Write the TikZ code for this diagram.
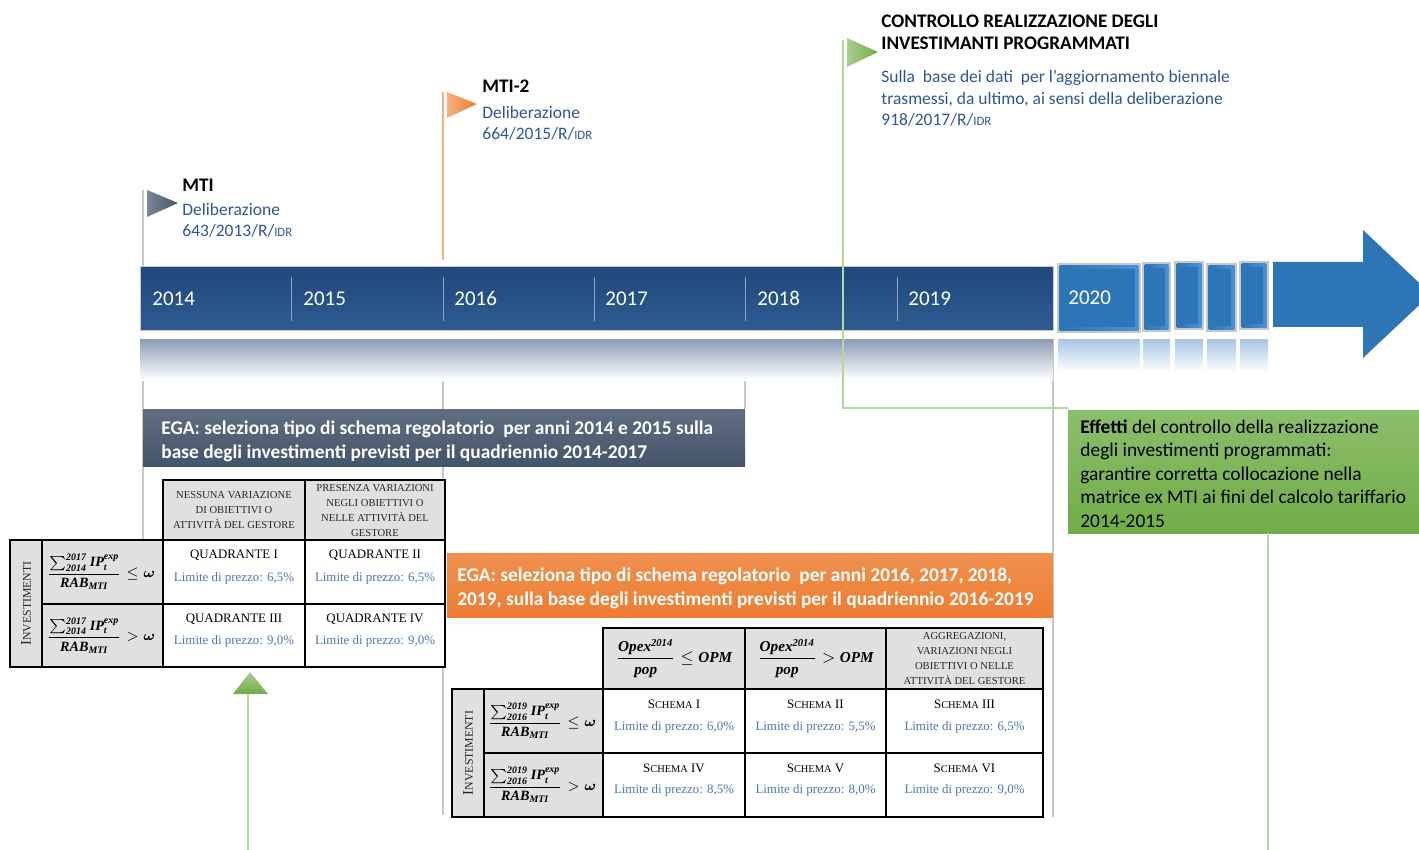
\documentclass[tikz,border=0pt]{standalone}
\usepackage{fontspec}
\usepackage{amsmath}
\setmainfont{Carlito}
\newfontfamily\tabfont{Liberation Serif}
\usetikzlibrary{positioning}
\definecolor{bartop}{HTML}{20487C}
\definecolor{barbot}{HTML}{2E5C92}
\definecolor{barrefl}{HTML}{8C9CB6}
\definecolor{boxblue}{HTML}{2E75B6}
\definecolor{boxlight}{HTML}{4A92D6}
\definecolor{boxrefl}{HTML}{A8C6E6}
\definecolor{delblue}{HTML}{2F5597}
\definecolor{limblue}{HTML}{4A76B8}
\definecolor{slate}{HTML}{44546A}
\definecolor{egaorange}{HTML}{ED7D31}
\definecolor{effgreen}{HTML}{70AD47}
\definecolor{polegray}{HTML}{C8C8C8}
\definecolor{poleorange}{HTML}{F4B183}
\definecolor{polegreen}{HTML}{B5D99C}
\definecolor{cellgray}{HTML}{E0E0E0}
\newcommand{\smallidr}{{\fontsize{6.4}{8}\selectfont IDR}}
\newcommand{\tsc}[3]{#2{\fontsize{#1}{6}\selectfont #3}}
\newcommand{\bi}[1]{\text{\tabfont\bfseries\itshape #1}}
\newcommand{\invfrac}[2]{\dfrac{\sum\nolimits_{\bi{#1}}^{\bi{#2}}\bi{IP}_{\bi{t}}^{\bi{exp}}}{\bi{RAB}_{\bi{MTI}}}}
\newcommand{\opxfrac}{\dfrac{\bi{Opex}^{\bi{2014}}}{\bi{pop}}}

\begin{document}
\begin{tikzpicture}[x=0.5pt,y=-0.5pt,
  yearlbl/.style={anchor=base west, inner sep=0pt, text=white, font=\fontsize{10.5}{12}\selectfont},
  pole/.style={line width=0.6pt},
  flagtitle/.style={anchor=base west, inner sep=0pt, font=\bfseries\fontsize{9.6}{11}\selectfont},
  flagtext/.style={anchor=base west, inner sep=0pt, text=delblue, font=\fontsize{8.75}{10}\selectfont},
  egatext/.style={anchor=base west, inner sep=0pt, text=white, font=\bfseries\fontsize{9.7}{11}\selectfont},
  efftext/.style={anchor=base west, inner sep=0pt, font=\fontsize{9.7}{11}\selectfont},
  grid/.style={line width=0.7pt},
  cellhd/.style={font=\tabfont\fontsize{5.3}{7.5}\selectfont, align=center, text=black!85},
  cellttl/.style={font=\tabfont\fontsize{6.45}{7}\selectfont},
  celllim/.style={font=\tabfont\fontsize{6.45}{7}\selectfont, text=limblue},
  invlbl/.style={rotate=90, font=\tabfont\fontsize{7.4}{8}\selectfont, text=black!85},
  frm/.style={font=\fontsize{7.1}{8}\selectfont}]
\useasboundingbox (0,0) rectangle (1419,850);

% flag poles
\coordinate (mtiTop) at (143,190);
\coordinate (mtiBar) at (143,267);
\coordinate (mtiLow) at (143,339);
\coordinate (mtiEnd) at (143,540);
\draw[pole,polegray] (mtiTop) -- (mtiBar);
\draw[pole,polegray] (mtiLow) -- (mtiEnd);
\coordinate (mti2Top) at (443,92);
\coordinate (mti2Bar) at (443,260);
\coordinate (mti2Low) at (443,339);
\coordinate (mti2End) at (443,815);
\draw[pole,poleorange] (mti2Top) -- (mti2Bar);
\draw[pole,polegray] (mti2Low) -- (mti2End);
\coordinate (y18Low) at (745,339);
\coordinate (y18End) at (745,409);
\draw[pole,polegray] (y18Low) -- (y18End);
\coordinate (endLow) at (1053,339);
\coordinate (endEnd) at (1053,817);
\draw[pole,polegray] (endLow) -- (endEnd);

% reflections under the timeline
\shade[top color=barrefl, bottom color=white] (140,339) rectangle (1053,380);
\foreach \xa/\xb in {1058/1140,1143/1170,1175/1203,1207/1236,1240/1268}
  \shade[top color=boxrefl, bottom color=white] (\xa,339) rectangle (\xb,372);

% timeline bar
\shade[top color=bartop, bottom color=barbot, draw=polegray, line width=0.5pt] (140,267) rectangle (1053,331);
\foreach \x in {291,443,594,745,897}
  \draw[line width=0.4pt, white!45!barbot] (\x,277) -- (\x,321);
\foreach \x/\yr in {152/2014,303/2015,454/2016,605/2017,757/2018,908/2019}
  \node[yearlbl] (yr\yr) at (\x,306) {\yr};

% future boxes and arrow
\foreach \xa/\ya/\xb/\yb in {1058/264/1140/332,1143/263/1170/331,1175/262/1203/329,1207/264/1236/331,1240/262/1268/329}{
  \draw[line width=1pt, polegray] (\xa,\ya) rectangle (\xb,\yb);
  \shade[left color=boxblue, right color=boxlight] (\xa+1.5,\ya+1.5) rectangle (\xb-1.5,\yb-1.5);
  \fill[boxblue] (\xa+5,\ya+5) rectangle (\xb-5,\yb-5);
}
\node[yearlbl] (yr2020) at (1068,305) {2020};
\fill[boxblue] (1273,262) -- (1363,262) -- (1363,230) -- (1431,294) -- (1363,358)
  -- (1363,327) -- (1273,327) -- cycle;

% green pole of the check
\coordinate (chkTop) at (843,40);
\coordinate (chkCorner) at (843,408);
\coordinate (chkBox) at (1068,408);
\draw[pole,polegreen] (chkTop) -- (chkCorner) -- (chkBox);

% flags
\shade[left color=slate!70, right color=slate] (147,190) -- (178,203) -- (147,217) -- cycle;
\shade[left color=egaorange!60, right color=egaorange] (447,92) -- (477,104) -- (447,118) -- cycle;
\shade[left color=effgreen!60, right color=effgreen] (847,38) -- (878,52) -- (847,67) -- cycle;

\node[flagtitle] (mtiT) at (182,192) {MTI};
\node[flagtext] (mtiD) at (182,216) {Deliberazione};
\node[flagtext] (mtiN) at (182,237) {643/2013/R/\smallidr};

\node[flagtitle] (mti2T) at (482,93) {MTI-2};
\node[flagtext] (mti2D) at (482,119) {Deliberazione};
\node[flagtext] (mti2N) at (482,140) {664/2015/R/\smallidr};

\node[flagtitle] (chkT1) at (881,28) {CONTROLLO REALIZZAZIONE DEGLI};
\node[flagtitle] (chkT2) at (881,50) {INVESTIMANTI PROGRAMMATI};
\node[flagtext] (chkS1) at (881,83) {Sulla\ \ base dei dati\ \ per l’aggiornamento biennale};
\node[flagtext] (chkS2) at (881,104.5) {trasmessi, da ultimo, ai sensi della deliberazione};
\node[flagtext] (chkS3) at (881,126) {918/2017/R/\smallidr};

% EGA boxes
\shade[top color=slate!85!white, bottom color=slate] (143,409) rectangle (745,466);
\node[egatext] (ega1a) at (161,434) {EGA: seleziona tipo di schema regolatorio\ \ per anni 2014 e 2015 sulla};
\node[egatext] (ega1b) at (161,458) {base degli investimenti previsti per il quadriennio 2014-2017};

\shade[top color=egaorange!85!white, bottom color=egaorange] (447,553) rectangle (1053,617);
\node[egatext] (ega2a) at (457,581) {EGA: seleziona tipo di schema regolatorio\ \ per anni 2016, 2017, 2018,};
\node[egatext] (ega2b) at (457,605) {2019, sulla base degli investimenti previsti per il quadriennio 2016-2019};

% effects box
\shade[top color=effgreen!80!white, bottom color=effgreen] (1068,410) rectangle (1419,533);
\node[efftext] (eff1) at (1080,433) {\textbf{Effetti} del controllo della realizzazione};
\node[efftext] (eff2) at (1080,456.5) {degli investimenti programmati:};
\node[efftext] (eff3) at (1080,480) {garantire corretta collocazione nella};
\node[efftext] (eff4) at (1080,503.5) {matrice ex MTI ai fini del calcolo tariffario};
\node[efftext] (eff5) at (1080,527) {2014-2015};
\coordinate (effBot) at (1268,533);
\coordinate (effEnd) at (1268,850);
\draw[pole,polegreen] (effBot) -- (effEnd);

% first matrix (MTI)
\fill[cellgray] (163,480) rectangle (445,540);
\fill[cellgray] (10,540) rectangle (163,667);
\fill[white] (163,540) rectangle (445,667);
\draw[grid] (163,480) rectangle (445,667);
\draw[grid] (10,540) rectangle (445,667);
\draw[grid] (42,540) -- (42,667) (163,480) -- (163,667) (305,480) -- (305,667)
  (42,604) -- (445,604) (163,540) -- (445,540);
\node[cellhd] (h1a) at (234,510) {NESSUNA VARIAZIONE\\DI OBIETTIVI O\\ATTIVITÀ DEL GESTORE};
\node[cellhd] (h1b) at (375,510.5) {PRESENZA VARIAZIONI\\NEGLI OBIETTIVI O\\NELLE ATTIVITÀ DEL\\GESTORE};
\node[invlbl] (inv1) at (26,603.5) {\tsc{5.9}{I}{NVESTIMENTI}};
\node[frm] (f1a) at (101,572) {$\invfrac{2014}{2017}\le\boldsymbol{\omega}$};
\node[frm] (f1b) at (101,635.5) {$\invfrac{2014}{2017}>\boldsymbol{\omega}$};
\node[cellttl] (q1) at (234,555) {QUADRANTE I};
\node[celllim] (q1l) at (234,578) {Limite di prezzo: 6,5\%};
\node[cellttl] (q2) at (375,555) {QUADRANTE II};
\node[celllim] (q2l) at (375,578) {Limite di prezzo: 6,5\%};
\node[cellttl] (q3) at (234,619) {QUADRANTE III};
\node[celllim] (q3l) at (234,641) {Limite di prezzo: 9,0\%};
\node[cellttl] (q4) at (375,619) {QUADRANTE IV};
\node[celllim] (q4l) at (375,641) {Limite di prezzo: 9,0\%};

% green marker under the first matrix
\shade[top color=effgreen!60, bottom color=effgreen] (233,694) -- (250,672) -- (268,694) -- cycle;
\coordinate (mrkBot) at (248,694);
\coordinate (mrkEnd) at (248,850);
\draw[pole,polegreen] (mrkBot) -- (mrkEnd);

% second matrix (MTI-2)
\fill[cellgray] (603,628) rectangle (1043,689);
\fill[cellgray] (452,689) rectangle (603,817);
\fill[white] (603,689) rectangle (1043,817);
\draw[grid] (603,628) rectangle (1043,817);
\draw[grid] (452,689) rectangle (1043,817);
\draw[grid] (484,689) -- (484,817) (603,628) -- (603,817) (745,628) -- (745,817)
  (886,628) -- (886,817) (484,753) -- (1043,753) (603,689) -- (1043,689);
\node[frm, font=\fontsize{7.6}{8}\selectfont] (h2a) at (674,658.5) {$\opxfrac\le\bi{OPM}$};
\node[frm, font=\fontsize{7.6}{8}\selectfont] (h2b) at (815.5,658.5) {$\opxfrac>\bi{OPM}$};
\node[cellhd] (h2c) at (964.5,659) {AGGREGAZIONI,\\VARIAZIONI NEGLI\\OBIETTIVI O NELLE\\ATTIVITÀ DEL GESTORE};
\node[invlbl] (inv2) at (468,753) {\tsc{5.9}{I}{NVESTIMENTI}};
\node[frm] (f2a) at (542,721) {$\invfrac{2016}{2019}\le\boldsymbol{\omega}$};
\node[frm] (f2b) at (542,785) {$\invfrac{2016}{2019}>\boldsymbol{\omega}$};
\node[cellttl] (s1) at (674,704) {\tsc{5.2}{S}{CHEMA} I};
\node[celllim] (s1l) at (674,727) {Limite di prezzo: 6,0\%};
\node[cellttl] (s2) at (815.5,704) {\tsc{5.2}{S}{CHEMA} II};
\node[celllim] (s2l) at (815.5,727) {Limite di prezzo: 5,5\%};
\node[cellttl] (s3) at (964.5,704) {\tsc{5.2}{S}{CHEMA} III};
\node[celllim] (s3l) at (964.5,727) {Limite di prezzo: 6,5\%};
\node[cellttl] (s4) at (674,768) {\tsc{5.2}{S}{CHEMA} IV};
\node[celllim] (s4l) at (674,790) {Limite di prezzo: 8,5\%};
\node[cellttl] (s5) at (815.5,768) {\tsc{5.2}{S}{CHEMA} V};
\node[celllim] (s5l) at (815.5,790) {Limite di prezzo: 8,0\%};
\node[cellttl] (s6) at (964.5,768) {\tsc{5.2}{S}{CHEMA} VI};
\node[celllim] (s6l) at (964.5,790) {Limite di prezzo: 9,0\%};
\end{tikzpicture}
\end{document}
